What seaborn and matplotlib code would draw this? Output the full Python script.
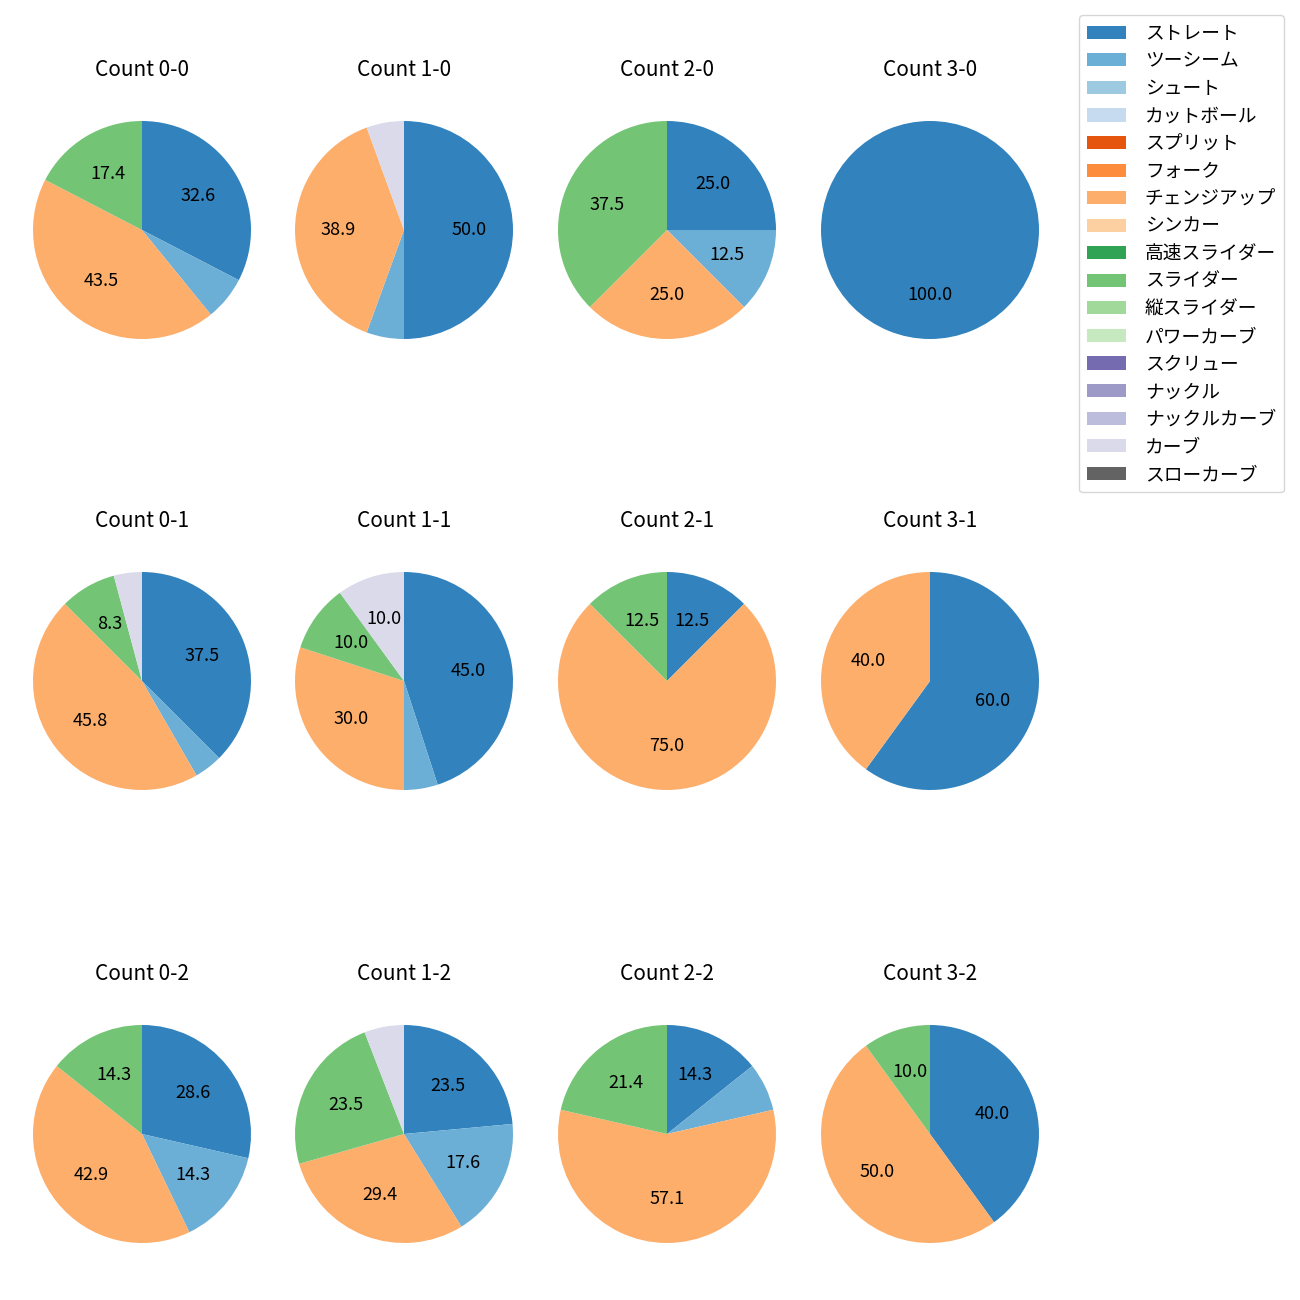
import matplotlib
matplotlib.use("Agg")
import matplotlib.pyplot as plt
import matplotlib.patches as mpatches
import seaborn as sns

sns.set_theme(style="white")
plt.rcParams['font.family'] = ['Noto Sans CJK JP', 'DejaVu Sans']
plt.rcParams['text.color'] = 'black'

pitch_types = ["ストレート", "ツーシーム", "シュート", "カットボール", "スプリット", "フォーク",
               "チェンジアップ", "シンカー", "高速スライダー", "スライダー", "縦スライダー",
               "パワーカーブ", "スクリュー", "ナックル", "ナックルカーブ", "カーブ", "スローカーブ"]

count_labels = ["0-0", "1-0", "2-0", "3-0",
                "0-1", "1-1", "2-1", "3-1",
                "0-2", "1-2", "2-2", "3-2"]

# pitch counts per situation
c_0_0 = {"ストレート": 15, "ツーシーム": 3, "チェンジアップ": 20, "スライダー": 8}
c_1_0 = {"ストレート": 9, "ツーシーム": 1, "チェンジアップ": 7, "カーブ": 1}
c_2_0 = {"ストレート": 2, "ツーシーム": 1, "チェンジアップ": 2, "スライダー": 3}
c_3_0 = {"ストレート": 1}
c_0_1 = {"ストレート": 9, "ツーシーム": 1, "チェンジアップ": 11, "スライダー": 2, "カーブ": 1}
c_1_1 = {"ストレート": 9, "ツーシーム": 1, "チェンジアップ": 6, "スライダー": 2, "カーブ": 2}
c_2_1 = {"ストレート": 1, "チェンジアップ": 6, "スライダー": 1}
c_3_1 = {"ストレート": 3, "チェンジアップ": 2}
c_0_2 = {"ストレート": 2, "ツーシーム": 1, "チェンジアップ": 3, "スライダー": 1}
c_1_2 = {"ストレート": 4, "ツーシーム": 3, "チェンジアップ": 5, "スライダー": 4, "カーブ": 1}
c_2_2 = {"ストレート": 2, "ツーシーム": 1, "チェンジアップ": 8, "スライダー": 3}
c_3_2 = {"ストレート": 4, "チェンジアップ": 5, "スライダー": 1}

data = [c_0_0, c_1_0, c_2_0, c_3_0, c_0_1, c_1_1, c_2_1, c_3_1, c_0_2, c_1_2, c_2_2, c_3_2]

palette = sns.color_palette("tab20c", 20)[:17]
color_map = dict(zip(pitch_types, palette))

W = H = 1300
fig = plt.figure(figsize=(13, 13), dpi=100)

col_cx = [142, 404, 667, 930]
row_cy = [230, 681, 1134]
diam = 218
side = diam * 1.25

def pct(p):
    return f"{p:.1f}" if p >= 8 else ""

for i, (lab, d) in enumerate(zip(count_labels, data)):
    r, c = divmod(i, 4)
    cx, cy = col_cx[c], row_cy[r]
    ax = fig.add_axes([(cx - side / 2) / W, 1 - (cy + side / 2) / H, side / W, side / H])
    names = [p for p in pitch_types if p in d]
    vals = [d[p] for p in names]
    ax.pie(vals, colors=[color_map[p] for p in names], startangle=90, counterclock=False,
           autopct=pct, pctdistance=0.6, textprops={"fontsize": 13, "color": "black"},
           wedgeprops={"linewidth": 0, "edgecolor": "none"})
    ax.set_title(f"Count {lab}", fontsize=15, pad=13, color="black")

handles = [mpatches.Patch(facecolor=color_map[p], edgecolor="none", label=p) for p in pitch_types]
fig.legend(handles=handles, loc="upper right", bbox_to_anchor=(0.9946, 0.9954),
           fontsize=13.5, frameon=True, labelspacing=0.35,
           handlelength=2.1, handletextpad=1.0)

fig.savefig("out.png", dpi=100)
